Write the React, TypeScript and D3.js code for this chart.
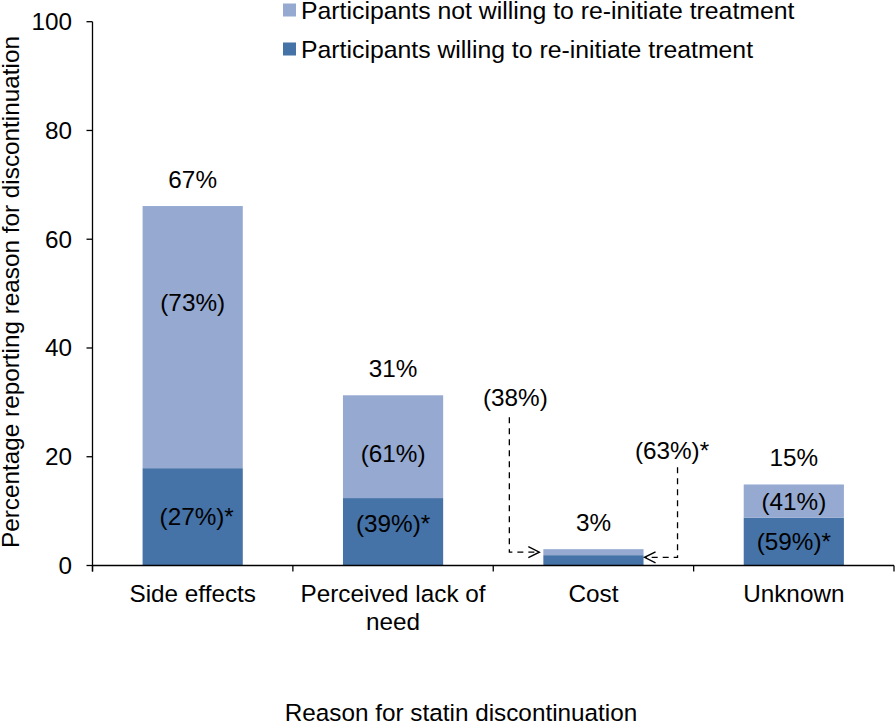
import React from "react";
import * as d3 from "d3";

const categoryLines: string[][] = [["Side effects"], ["Perceived lack of", "need"], ["Cost"], ["Unknown"]];
const willing = [17.9, 12.4, 1.9, 8.8];
const notWilling = [48.2, 18.9, 1.1, 6.1];
const totalLabels = ["67%", "31%", "3%", "15%"];
const willingLabels = ["(27%)*", "(39%)*", "(63%)*", "(59%)*"];
const notWillingLabels = ["(73%)", "(61%)", "(38%)", "(41%)"];
const yTicks = [0, 20, 40, 60, 80, 100];
const legendLabels = ["Participants not willing to re-initiate treatment", "Participants willing to re-initiate treatment"];
const xTitle = "Reason for statin discontinuation";
const yTitle = "Percentage reporting reason for discontinuation";

const W = 896;
const H = 721;
const FONT = "'Liberation Sans', Arial, Helvetica, sans-serif";
const FS = 24.3;
const LIGHT = "#95a9d1";
const DARK = "#4572a7";

// nudges for inner labels (manual placement in the original)
const notWillingNudge = [-35, 7, 0, 0];
const willingNudge = [0, -8, 0, 0];

export default function App() {
  const x = d3.scaleBand<number>().domain(d3.range(categoryLines.length)).range([92.5, 894]).paddingInner(0.5).paddingOuter(0.25);
  const y = d3.scaleLinear().domain([0, 100]).range([565.5, 21.7]);
  const step = x.step();
  const boundaries = d3.range(categoryLines.length + 1).map((i) => 92.5 + i * step);

  const arrowHead = (tx: number, ty: number, dir: number) => {
    const len = 11, hw = 5.5;
    return `M${tx - dir * len},${ty - hw} L${tx},${ty} L${tx - dir * len},${ty + hw}`;
  };

  return (
    <svg width={W} height={H} style={{ position: "absolute", left: 0, top: 0, background: "#fff" }} fontFamily={FONT} fontSize={FS}>
      {categoryLines.map((_, i) => {
        const x0 = x(i)!;
        const bw = x.bandwidth();
        const total = willing[i] + notWilling[i];
        const cx = x0 + bw / 2;
        const yDarkTop = y(willing[i]);
        const yTop = y(total);
        const small = yDarkTop - yTop < 20;
        return (
          <g key={i}>
            <rect x={x0} y={yDarkTop} width={bw} height={y(0) - yDarkTop} fill={DARK} />
            <rect x={x0} y={yTop} width={bw} height={yDarkTop - yTop} fill={LIGHT} />
            <text x={cx} y={yTop - 18} textAnchor="middle">{totalLabels[i]}</text>
            {!small && (
              <>
                <text x={cx} y={(yTop + yDarkTop) / 2 + notWillingNudge[i]} textAnchor="middle" dominantBaseline="central">{notWillingLabels[i]}</text>
                <text x={cx + (i === 0 ? 4 : 0)} y={(yDarkTop + y(0)) / 2 + willingNudge[i]} textAnchor="middle" dominantBaseline="central">{willingLabels[i]}</text>
              </>
            )}
            {small && (
              <g>
                <text x={x0 - 28} y={yTop - 143} textAnchor="middle">{notWillingLabels[i]}</text>
                <path d={`M${x0 - 34},${yTop - 132} L${x0 - 34},${y(willing[i] + notWilling[i] / 2)} L${x0 - 5},${y(willing[i] + notWilling[i] / 2)}`} fill="none" stroke="#000" strokeWidth={1.3} strokeDasharray="6,5" />
                <path d={arrowHead(x0 - 4, y(willing[i] + notWilling[i] / 2), 1)} fill="none" stroke="#000" strokeWidth={1.4} />
                <text x={x0 + bw + 28.5} y={yTop - 90} textAnchor="middle">{willingLabels[i]}</text>
                <path d={`M${x0 + bw + 34},${yTop - 82} L${x0 + bw + 34},${y(willing[i] / 2) - 3} L${x0 + bw + 2},${y(willing[i] / 2) - 3}`} fill="none" stroke="#000" strokeWidth={1.3} strokeDasharray="6,5" />
                <path d={arrowHead(x0 + bw + 1, y(willing[i] / 2) - 3, -1)} fill="none" stroke="#000" strokeWidth={1.4} />
              </g>
            )}
          </g>
        );
      })}

      <line x1={92.5} x2={92.5} y1={y(100)} y2={y(0) + 6} stroke="#000" strokeWidth={1.3} />
      {yTicks.map((t) => (
        <g key={t}>
          <line x1={86.5} x2={92.5} y1={y(t)} y2={y(t)} stroke="#000" strokeWidth={1.3} />
          <text x={72} y={y(t)} textAnchor="end" dominantBaseline="central">{t}</text>
        </g>
      ))}

      <line x1={92.5} x2={894} y1={y(0)} y2={y(0)} stroke="#000" strokeWidth={1.3} />
      {boundaries.map((b, i) => (
        <line key={i} x1={b} x2={b} y1={y(0)} y2={y(0) + 6} stroke="#000" strokeWidth={1.3} />
      ))}
      {categoryLines.map((lines, i) => (
        <text key={i} x={x(i)! + x.bandwidth() / 2} y={602} textAnchor="middle">
          {lines.map((l, j) => (
            <tspan key={j} x={x(i)! + x.bandwidth() / 2} dy={j === 0 ? 0 : 28}>{l}</tspan>
          ))}
        </text>
      ))}

      <text x={461} y={721} textAnchor="middle">{xTitle}</text>
      <text transform={`translate(19,292) rotate(-90)`} textAnchor="middle">{yTitle}</text>

      {legendLabels.map((l, i) => (
        <g key={i}>
          <rect x={283} y={3.5 + i * 39} width={13} height={13} fill={i === 0 ? LIGHT : DARK} />
          <text x={301} y={10 + i * 39} dominantBaseline="central" fontSize={24.8}>{l}</text>
        </g>
      ))}
    </svg>
  );
}
